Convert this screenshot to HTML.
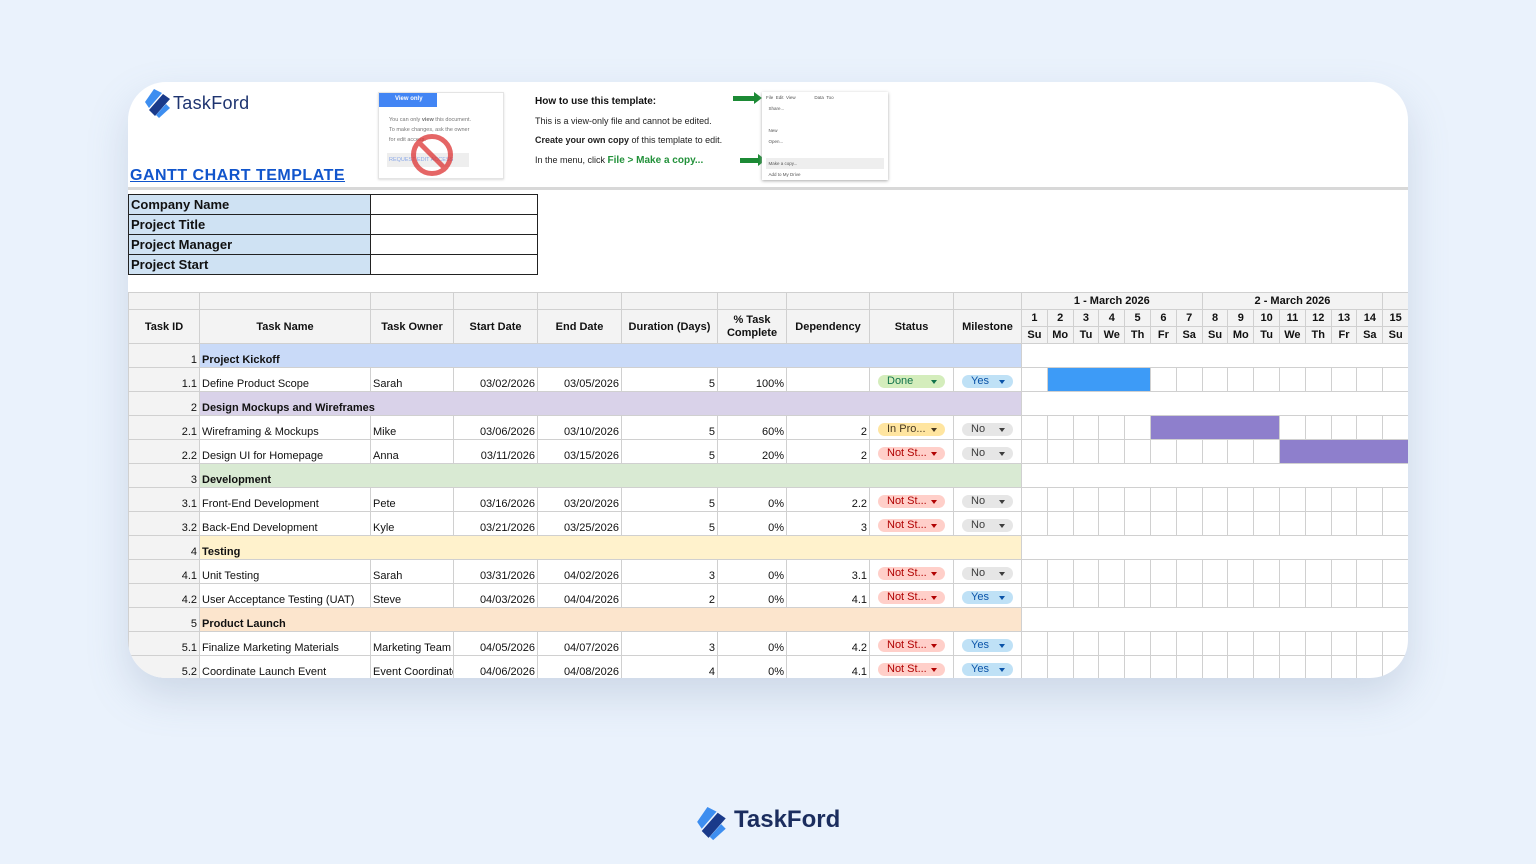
<!DOCTYPE html>
<html><head><meta charset="utf-8">
<style>
*{margin:0;padding:0;box-sizing:border-box}
body{width:1536px;height:864px;background:#eaf2fc;position:relative;overflow:hidden;font-family:"Liberation Sans",sans-serif}
.card{position:absolute;left:128px;top:82px;width:1280px;height:596px;background:#fff;border-radius:38px;overflow:hidden;box-shadow:0 18px 40px rgba(120,140,170,.25)}
.a{position:absolute}
table{border-collapse:collapse;table-layout:fixed}
td{border:1px solid #d0d0d0;font-size:11px;color:#111;white-space:nowrap;overflow:hidden;height:24px;vertical-align:bottom;padding:0 2px 1px}
.h td{background:#f3f3f3;font-weight:bold;text-align:center;vertical-align:middle;padding:0;height:17px}
.id{background:#f3f3f3;text-align:right}
.r{text-align:right}
.chip{display:inline-block;border-radius:7px;height:13px;line-height:13px;font-size:11px;padding-left:9px;position:relative;margin-left:6px;margin-bottom:2px}
.chip:after{content:"";position:absolute;right:8px;top:5px;border-left:3px solid transparent;border-right:3px solid transparent;border-top:4px solid currentColor}
.st{width:67px}.ms{width:51px;margin-left:6px}
.dn{background:#d4edbc;color:#11734b}.ip{background:#ffe5a0;color:#473821}.ns{background:#ffcfc9;color:#b10202}.ys{background:#bfe1f6;color:#0a53a8}.no{background:#e6e6e6;color:#3d3d3d}
.info td{height:20px;font-size:13px;font-weight:bold;border:1px solid #222;padding:0 2px 2px}
</style></head><body>
<div class="card">
 <svg class="a" style="left:16px;top:6px" width="28" height="30" viewBox="0 0 28 30"><path d="M10 1 L18 5 L5 20 L1 14 Z" fill="#3d8ef0"/><path d="M19 6 L26 11 L11 28 L5 22 Z" fill="#1a3a8a"/><path d="M22 16 L26 20 L15 30 L12 27Z" fill="#3d8ef0"/></svg>
 <div class="a" style="left:45px;top:11px;font-size:18px;color:#1e3470;letter-spacing:.3px">TaskFord</div>
 <div class="a" style="left:2px;top:85px;font-size:16px;color:#1155cc;font-weight:bold;text-decoration:underline;letter-spacing:.5px">GANTT CHART TEMPLATE</div>
 <div class="a" style="left:250px;top:10px;width:126px;height:87px;border:1px solid #e4e4e4;background:#fff;box-shadow:0 1px 2px #ddd">
  <div style="background:#4285f4;width:58px;height:14px;color:#fff;font-size:6px;font-weight:bold;padding:3px 0 0 16px">View only</div>
  <div style="font-size:5.5px;color:#777;padding:8px 10px;line-height:10px">You can only <b>view</b> this document.<br>To make changes, ask the owner<br>for edit access.</div>
  <div style="margin-left:8px;width:82px;height:14px;background:#eee;color:#8aa8e8;font-size:5.5px;padding:4px 2px">REQUEST EDIT ACCESS</div>
  <div class="a" style="left:32px;top:41px;width:42px;height:42px;border:5px solid #d33;border-radius:50%;opacity:.75"><div style="position:absolute;left:14px;top:-3px;width:5px;height:40px;background:#d33;transform:rotate(-45deg)"></div></div>
 </div>
 <div class="a" style="left:407px;top:14px;font-size:10px;font-weight:bold;color:#111">How to use this template:</div>
 <div class="a" style="left:407px;top:34px;font-size:9px;color:#222">This is a view-only file and cannot be edited.</div>
 <div class="a" style="left:407px;top:53px;font-size:9px;color:#222"><b>Create your own copy</b> of this template to edit.</div>
 <div class="a" style="left:407px;top:73px;font-size:9px;color:#222">In the menu, click <b style="color:#22913a;font-size:10px">File &gt; Make a copy...</b></div>
 <div class="a" style="left:605px;top:14px;width:23px;height:5px;background:#1c8a35"></div><div class="a" style="left:626px;top:10px;border-left:8px solid #1c8a35;border-top:6px solid transparent;border-bottom:6px solid transparent"></div>
 <div class="a" style="left:612px;top:76px;width:20px;height:5px;background:#1c8a35"></div><div class="a" style="left:630px;top:72px;border-left:8px solid #1c8a35;border-top:6px solid transparent;border-bottom:6px solid transparent"></div>
 <div class="a" style="left:634px;top:10px;width:126px;height:88px;background:#fff;box-shadow:0 1px 3px #aaa;font-size:4.5px;color:#555;line-height:11px;padding:0 4px">File&nbsp; Edit&nbsp; View&nbsp;&nbsp;&nbsp;&nbsp;&nbsp;&nbsp;&nbsp;&nbsp;&nbsp;&nbsp;&nbsp;&nbsp;&nbsp;&nbsp; Data&nbsp; Too<br>&nbsp;&nbsp;Share...<br>&nbsp;<br>&nbsp;&nbsp;New<br>&nbsp;&nbsp;Open...<br>&nbsp;<br><span style="background:#eee;display:block">&nbsp;&nbsp;Make a copy...</span>&nbsp;&nbsp;Add to My Drive</div>
 <div class="a" style="left:0;top:105px;width:1280px;height:3px;background:#d8d8d8"></div>
 <table class="a info" style="left:0;top:112px">
  <col style="width:242px"><col style="width:167px">
  <tr><td style="background:#cfe2f3">Company Name</td><td></td></tr>
  <tr><td style="background:#cfe2f3">Project Title</td><td></td></tr>
  <tr><td style="background:#cfe2f3">Project Manager</td><td></td></tr>
  <tr><td style="background:#cfe2f3">Project Start</td><td></td></tr>
 </table>
 <table class="a" style="left:0;top:210px;width:1280px">
  <col style="width:71px"><col style="width:171px"><col style="width:83px"><col style="width:84px"><col style="width:84px"><col style="width:96px"><col style="width:69px"><col style="width:83px"><col style="width:84px"><col style="width:68px">
  <col span="15" style="width:25.8px">
  <tr class="h"><td></td><td></td><td></td><td></td><td></td><td></td><td></td><td></td><td></td><td></td><td colspan="7">1 - March 2026</td><td colspan="7">2 - March 2026</td><td></td></tr>
  <tr class="h"><td rowspan="2">Task ID</td><td rowspan="2">Task Name</td><td rowspan="2">Task Owner</td><td rowspan="2">Start Date</td><td rowspan="2">End Date</td><td rowspan="2">Duration (Days)</td><td rowspan="2" style="line-height:13px">% Task<br>Complete</td><td rowspan="2">Dependency</td><td rowspan="2">Status</td><td rowspan="2">Milestone</td><td>1</td><td>2</td><td>3</td><td>4</td><td>5</td><td>6</td><td>7</td><td>8</td><td>9</td><td>10</td><td>11</td><td>12</td><td>13</td><td>14</td><td>15</td></tr>
  <tr class="h"><td>Su</td><td>Mo</td><td>Tu</td><td>We</td><td>Th</td><td>Fr</td><td>Sa</td><td>Su</td><td>Mo</td><td>Tu</td><td>We</td><td>Th</td><td>Fr</td><td>Sa</td><td>Su</td></tr>

  <tr><td class="id">1</td><td colspan="9" style="background:#c9daf8;font-weight:bold">Project Kickoff</td><td colspan="15"></td></tr>
  <tr><td class="id">1.1</td><td>Define Product Scope</td><td>Sarah</td><td class="r">03/02/2026</td><td class="r">03/05/2026</td><td class="r">5</td><td class="r">100%</td><td class="r"></td><td><span class="chip st dn">Done</span></td><td><span class="chip ms ys">Yes</span></td><td></td><td colspan="4" style="background:#3d9bf7"></td><td></td><td></td><td></td><td></td><td></td><td></td><td></td><td></td><td></td><td></td></tr>
  <tr><td class="id">2</td><td colspan="9" style="background:#d9d2e9;font-weight:bold">Design Mockups and Wireframes</td><td colspan="15"></td></tr>
  <tr><td class="id">2.1</td><td>Wireframing &amp; Mockups</td><td>Mike</td><td class="r">03/06/2026</td><td class="r">03/10/2026</td><td class="r">5</td><td class="r">60%</td><td class="r">2</td><td><span class="chip st ip">In Pro...</span></td><td><span class="chip ms no">No</span></td><td></td><td></td><td></td><td></td><td></td><td colspan="5" style="background:#8e7fcc"></td><td></td><td></td><td></td><td></td><td></td></tr>
  <tr><td class="id">2.2</td><td>Design UI for Homepage</td><td>Anna</td><td class="r">03/11/2026</td><td class="r">03/15/2026</td><td class="r">5</td><td class="r">20%</td><td class="r">2</td><td><span class="chip st ns">Not St...</span></td><td><span class="chip ms no">No</span></td><td></td><td></td><td></td><td></td><td></td><td></td><td></td><td></td><td></td><td></td><td colspan="5" style="background:#8e7fcc"></td></tr>
  <tr><td class="id">3</td><td colspan="9" style="background:#d9ead3;font-weight:bold">Development</td><td colspan="15"></td></tr>
  <tr><td class="id">3.1</td><td>Front-End Development</td><td>Pete</td><td class="r">03/16/2026</td><td class="r">03/20/2026</td><td class="r">5</td><td class="r">0%</td><td class="r">2.2</td><td><span class="chip st ns">Not St...</span></td><td><span class="chip ms no">No</span></td><td></td><td></td><td></td><td></td><td></td><td></td><td></td><td></td><td></td><td></td><td></td><td></td><td></td><td></td><td></td></tr>
  <tr><td class="id">3.2</td><td>Back-End Development</td><td>Kyle</td><td class="r">03/21/2026</td><td class="r">03/25/2026</td><td class="r">5</td><td class="r">0%</td><td class="r">3</td><td><span class="chip st ns">Not St...</span></td><td><span class="chip ms no">No</span></td><td></td><td></td><td></td><td></td><td></td><td></td><td></td><td></td><td></td><td></td><td></td><td></td><td></td><td></td><td></td></tr>
  <tr><td class="id">4</td><td colspan="9" style="background:#fff2cc;font-weight:bold">Testing</td><td colspan="15"></td></tr>
  <tr><td class="id">4.1</td><td>Unit Testing</td><td>Sarah</td><td class="r">03/31/2026</td><td class="r">04/02/2026</td><td class="r">3</td><td class="r">0%</td><td class="r">3.1</td><td><span class="chip st ns">Not St...</span></td><td><span class="chip ms no">No</span></td><td></td><td></td><td></td><td></td><td></td><td></td><td></td><td></td><td></td><td></td><td></td><td></td><td></td><td></td><td></td></tr>
  <tr><td class="id">4.2</td><td>User Acceptance Testing (UAT)</td><td>Steve</td><td class="r">04/03/2026</td><td class="r">04/04/2026</td><td class="r">2</td><td class="r">0%</td><td class="r">4.1</td><td><span class="chip st ns">Not St...</span></td><td><span class="chip ms ys">Yes</span></td><td></td><td></td><td></td><td></td><td></td><td></td><td></td><td></td><td></td><td></td><td></td><td></td><td></td><td></td><td></td></tr>
  <tr><td class="id">5</td><td colspan="9" style="background:#fce5cd;font-weight:bold">Product Launch</td><td colspan="15"></td></tr>
  <tr><td class="id">5.1</td><td>Finalize Marketing Materials</td><td>Marketing Team</td><td class="r">04/05/2026</td><td class="r">04/07/2026</td><td class="r">3</td><td class="r">0%</td><td class="r">4.2</td><td><span class="chip st ns">Not St...</span></td><td><span class="chip ms ys">Yes</span></td><td></td><td></td><td></td><td></td><td></td><td></td><td></td><td></td><td></td><td></td><td></td><td></td><td></td><td></td><td></td></tr>
  <tr><td class="id">5.2</td><td>Coordinate Launch Event</td><td>Event Coordinator</td><td class="r">04/06/2026</td><td class="r">04/08/2026</td><td class="r">4</td><td class="r">0%</td><td class="r">4.1</td><td><span class="chip st ns">Not St...</span></td><td><span class="chip ms ys">Yes</span></td><td></td><td></td><td></td><td></td><td></td><td></td><td></td><td></td><td></td><td></td><td></td><td></td><td></td><td></td><td></td></tr>
 </table>
</div>
<svg class="a" style="left:696px;top:804px" width="32" height="38" viewBox="0 0 28 30"><path d="M10 1 L18 5 L5 20 L1 14 Z" fill="#3d8ef0"/><path d="M19 6 L26 11 L11 28 L5 22 Z" fill="#1a3a8a"/><path d="M22 16 L26 20 L15 30 L12 27Z" fill="#3d8ef0"/></svg>
<div class="a" style="left:734px;top:806px;font-size:24px;font-weight:bold;color:#1b2d5e">TaskFord</div>
</body></html>
